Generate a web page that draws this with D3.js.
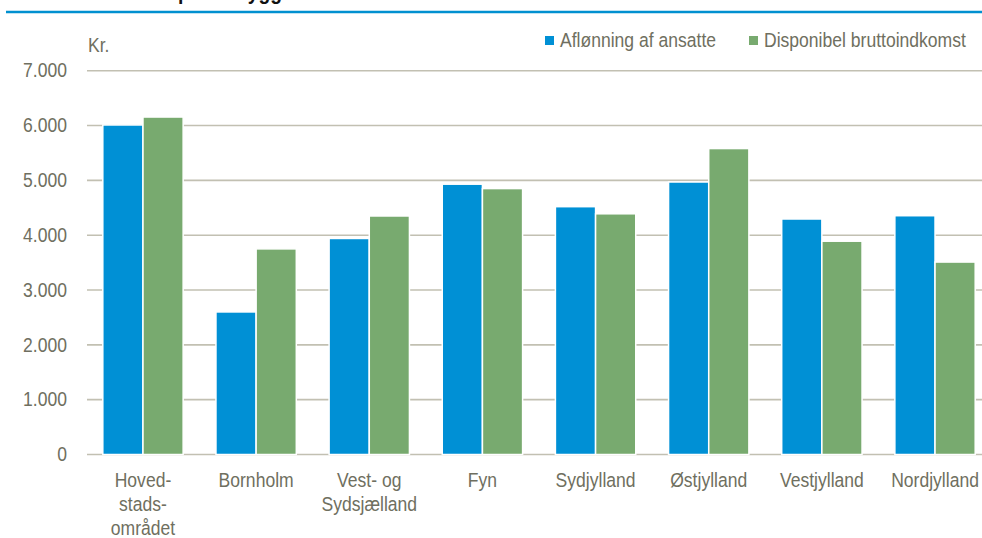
<!DOCTYPE html>
<html>
<head>
<meta charset="utf-8">
<script src="https://cdn.jsdelivr.net/npm/d3@7"></script>
<style>
  body{margin:0;background:#fff;}
  text{font-family:"Liberation Sans",Arial,sans-serif;}
</style>
</head>
<body>
<div id="chart"></div>
<script>
var regions=['Hoved-|stads-|området','Bornholm','Vest- og|Sydsjælland','Fyn','Sydjylland','Østjylland','Vestjylland','Nordjylland'];
var seriesNames=['Aflønning af ansatte','Disponibel bruttoindkomst'];
var aflonning=[6010,2600,3940,4930,4520,4970,4295,4355];
var disponibel=[6155,3750,4350,4850,4390,5580,3890,3510];
var yTicks=[0,1000,2000,3000,4000,5000,6000,7000];

var color_blue='#0090d5';
var color_green='#78aa6f';
var text_color='#6f6f60';
var grid_color='#c2c0b2';
var fontSize=19.5;
var squeeze=0.9; // the chart's font is a bit narrow

var width=982, height=538;

var svg=d3.select('#chart').append('svg')
  .attr('width',width)
  .attr('height',height);

// narrow the text horizontally around its own x
function narrow(sel){
  sel.each(function(){
    var t=d3.select(this);
    var x0=+t.attr('x')||0;
    t.attr('transform','translate('+x0+',0) scale('+squeeze+',1) translate('+(-x0)+',0)');
  });
}

// cut-off title at the top
svg.append('text')
  .attr('x',178).attr('y',-1)
  .attr('font-size',21.5).attr('font-weight','bold')
  .attr('fill','#111')
  .text('pr. indbygger')
  .call(narrow);

svg.append('line')
  .attr('x1',6).attr('x2',width)
  .attr('y1',12).attr('y2',12)
  .attr('stroke','#0090d0')
  .attr('stroke-width',2.5);

var y=d3.scaleLinear().domain([0,7000]).range([454.5,70.7]);
var x=d3.scaleBand().domain(d3.range(regions.length)).range([86.4,991.6])
  .paddingInner(0.29).paddingOuter(0.145);
var xs=d3.scaleBand().domain([0,1]).range([0,x.bandwidth()]).padding(0.0);

var fmt=function(v){return d3.format(',')(v).replace(/,/g,'.');};

// gridlines
svg.append('g').selectAll('line')
  .data(yTicks)
  .enter()
  .append('line')
  .attr('x1',87).attr('x2',width)
  .attr('y1',function(d){return y(d);})
  .attr('y2',function(d){return y(d);})
  .attr('stroke',grid_color)
  .attr('stroke-width',1.6);

var yAxis=d3.axisLeft(y).tickValues(yTicks).tickSize(0).tickPadding(0).tickFormat(fmt);
var ya=svg.append('g').attr('transform','translate(67,0)').call(yAxis);
ya.select('.domain').remove();
ya.selectAll('text').attr('font-size',fontSize).attr('fill',text_color)
  .attr('font-family','"Liberation Sans",Arial,sans-serif')
  .call(narrow);

svg.append('text')
  .attr('x',88).attr('y',52)
  .attr('font-size',fontSize).attr('fill',text_color)
  .text('Kr.')
  .call(narrow);

// bars
var data=regions.map(function(r,i){return [aflonning[i],disponibel[i]];});
var colors=[color_blue,color_green];
var groups=svg.append('g').selectAll('g')
  .data(data)
  .enter()
  .append('g')
  .attr('transform',function(d,i){return 'translate('+x(i)+',0)';});
groups.selectAll('rect')
  .data(function(d){return d;})
  .enter()
  .append('rect')
  .attr('x',function(d,j){return xs(j);})
  .attr('width',xs.bandwidth())
  .attr('y',function(d){return y(d);})
  .attr('height',function(d){return y(0)-y(d);})
  .attr('fill',function(d,j){return colors[j];})
  .attr('stroke','white')
  .attr('stroke-width',1.5);

// x labels
var xl=svg.append('g').selectAll('text')
  .data(regions)
  .enter()
  .append('text')
  .attr('x',function(d,i){return x(i)+x.bandwidth()/2;})
  .attr('y',487)
  .attr('text-anchor','middle')
  .attr('font-size',fontSize)
  .attr('fill',text_color);
xl.each(function(d){
  var t=d3.select(this);
  d.split('|').forEach(function(part,k){
    t.append('tspan')
      .attr('x',t.attr('x'))
      .attr('dy',k==0?0:24)
      .text(part);
  });
});
xl.call(narrow);

// legend
var legendX=[545,749];
seriesNames.forEach(function(name,i){
  svg.append('rect')
    .attr('x',legendX[i]).attr('y',36)
    .attr('width',9).attr('height',9)
    .attr('fill',colors[i]);
  svg.append('text')
    .attr('x',legendX[i]+15).attr('y',47)
    .attr('font-size',fontSize).attr('fill',text_color)
    .text(name)
    .call(narrow);
});
</script>
</body>
</html>
